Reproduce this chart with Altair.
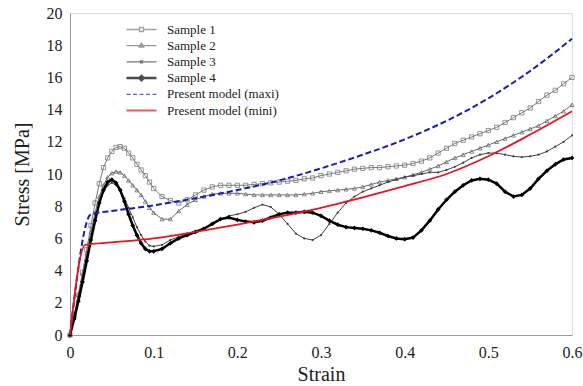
import altair as alt
import pandas as pd

# ---------------- data ----------------
strain = [0, 0.005, 0.01, 0.015, 0.02, 0.025, 0.03, 0.035, 0.04, 0.045, 0.05,
          0.055, 0.06, 0.065, 0.07, 0.075, 0.08, 0.085, 0.09, 0.095, 0.1,
          0.11, 0.12, 0.13, 0.14, 0.15, 0.16, 0.17, 0.18, 0.19, 0.2,
          0.21, 0.22, 0.23, 0.24, 0.25, 0.26, 0.27, 0.28, 0.29, 0.3,
          0.31, 0.32, 0.33, 0.34, 0.35, 0.36, 0.37, 0.38, 0.39, 0.4,
          0.41, 0.42, 0.43, 0.44, 0.45, 0.46, 0.47, 0.48, 0.49, 0.5,
          0.51, 0.52, 0.53, 0.54, 0.55, 0.56, 0.57, 0.58, 0.59, 0.6]

sample1 = [0, 1.2, 2.5, 3.9, 5.3, 6.8, 8.2, 9.4, 10.4, 11.0, 11.4,
           11.65, 11.7, 11.6, 11.3, 11.0, 10.6, 10.25, 9.9, 9.5, 9.1,
           8.6, 8.35, 8.2, 8.4, 8.7, 9.0, 9.2, 9.3, 9.3, 9.3,
           9.3, 9.35, 9.4, 9.45, 9.5, 9.55, 9.6, 9.7, 9.75, 9.9,
           10.0, 10.1, 10.2, 10.3, 10.35, 10.4, 10.4, 10.45, 10.5, 10.55,
           10.65, 10.8, 11.0, 11.3, 11.6, 11.9, 12.1, 12.3, 12.5, 12.7,
           12.9, 13.2, 13.5, 13.8, 14.1, 14.5, 14.9, 15.2, 15.6, 16.0]

sample2 = [0, 1.2, 2.5, 3.8, 5.1, 6.4, 7.6, 8.6, 9.3, 9.8, 10.05,
           10.15, 10.1, 9.9, 9.6, 9.3, 9.0, 8.7, 8.3, 7.9, 7.6,
           7.2, 7.2, 7.7, 8.1, 8.4, 8.6, 8.75, 8.8, 8.8, 8.8,
           8.75, 8.7, 8.7, 8.7, 8.7, 8.7, 8.7, 8.75, 8.8, 8.9,
           8.95, 9.0, 9.05, 9.1, 9.2, 9.35, 9.5, 9.6, 9.7, 9.8,
           9.95, 10.1, 10.3, 10.5, 10.75, 11.0, 11.2, 11.4, 11.6, 11.8,
           12.0, 12.2, 12.4, 12.6, 12.8, 13.0, 13.3, 13.6, 13.9, 14.3]

sample3 = [0, 1.1, 2.3, 3.5, 4.8, 6.0, 7.2, 8.2, 8.9, 9.3, 9.45,
           9.3, 9.0, 8.5, 7.9, 7.3, 6.7, 6.2, 5.8, 5.55, 5.5,
           5.6, 5.9, 6.1, 6.3, 6.45, 6.6, 6.9, 7.2, 7.4, 7.5,
           7.65, 7.9, 8.1, 7.95, 7.5, 6.9, 6.3, 6.0, 5.9, 6.2,
           6.9, 7.6, 8.2, 8.6, 8.9, 9.1, 9.3, 9.5, 9.65, 9.8,
           9.9, 10.0, 10.1, 10.1, 10.25, 10.45, 10.7, 11.0, 11.2, 11.3,
           11.3, 11.2, 11.1, 11.05, 11.1, 11.2, 11.4, 11.7, 12.0, 12.4]

sample4 = [0, 1.0, 2.1, 3.3, 4.6, 5.9, 7.1, 8.2, 9.0, 9.5, 9.65,
           9.45, 9.0, 8.3, 7.5, 6.8, 6.2, 5.7, 5.35, 5.2, 5.2,
           5.35, 5.7, 6.0, 6.2, 6.4, 6.6, 6.9, 7.2, 7.3, 7.15,
           7.05, 7.0, 7.1, 7.3, 7.5, 7.6, 7.6, 7.65, 7.6, 7.4,
           7.1, 6.85, 6.7, 6.65, 6.6, 6.5, 6.35, 6.15, 6.0, 5.95,
           6.05, 6.5, 7.1, 7.8, 8.4, 8.9, 9.3, 9.6, 9.7, 9.65,
           9.4, 8.9, 8.6, 8.7, 9.1, 9.7, 10.2, 10.6, 10.9, 11.0]

maxi_strain = [0, 0.025, 0.05, 0.1, 0.15, 0.2, 0.25, 0.3, 0.35, 0.4, 0.45, 0.5, 0.55, 0.6]
maxi_stress = [0, 7.5, 7.7, 8.05, 8.5, 9.0, 9.6, 10.35, 11.2, 12.15, 13.3, 14.7, 16.4, 18.4]

mini_strain = [0, 0.018, 0.05, 0.1, 0.15, 0.2, 0.25, 0.3, 0.35, 0.4, 0.45, 0.5, 0.55, 0.6]
mini_stress = [0, 5.6, 5.75, 6.0, 6.4, 6.85, 7.35, 7.9, 8.55, 9.25, 10.0, 11.1, 12.45, 13.9]

names = ["Sample 1", "Sample 2", "Sample 3", "Sample 4",
         "Present model (maxi)", "Present model (mini)"]
colors = ["#7a7a7a", "#6a6a6a", "#404040", "#000000", "#1c1cb4", "#e8141e"]

# legend glyphs (line + marker), drawn as custom symbol paths
legend_paths = [
    "M-3,0H-0.45M0.45,0H3M-0.4,-0.4H0.4V0.4H-0.4Z",
    "M-3,0H3M0,-0.5L0.45,0.3H-0.45Z",
    "M-3,0H3M-0.2,-0.2H0.2V0.2H-0.2Z",
    "M-3,-0.12H3M-3,0.12H3M0,-0.6L0.6,0L0,0.6L-0.6,0ZM0,-0.3L0.3,0L0,0.3L-0.3,0Z",
    "M-3,0H-2.2M-1.7,0H-0.9M-0.4,0H0.4M0.9,0H1.7M2.2,0H3",
    "M-3,-0.08H3M-3,0.08H3",
]

rows = []
for nm, ys in zip(names[:4], [sample1, sample2, sample3, sample4]):
    for x, y in zip(strain, ys):
        rows.append({"series": nm, "strain": x, "stress": y})
for x, y in zip(maxi_strain, maxi_stress):
    rows.append({"series": names[4], "strain": x, "stress": y})
for x, y in zip(mini_strain, mini_stress):
    rows.append({"series": names[5], "strain": x, "stress": y})
df = pd.DataFrame(rows)

FONT = "Liberation Serif"

xenc = alt.X("strain:Q", title="Strain",
             scale=alt.Scale(domain=[0, 0.6], nice=False),
             axis=alt.Axis(values=[0, 0.1, 0.2, 0.3, 0.4, 0.5, 0.6],
                           labelExpr="datum.value == 0 ? '0' : format(datum.value, '.1f')",
                           grid=False, ticks=False, labelPadding=9, labelFlush=False,
                           labelFontSize=16, titleFontSize=20, titlePadding=4,
                           titleFontWeight="normal", domainColor="#999999",
                           labelColor="#222222", titleColor="#222222",
                           labelFont=FONT, titleFont=FONT))
yenc = alt.Y("stress:Q", title="Stress [MPa]",
             scale=alt.Scale(domain=[0, 20], nice=False),
             axis=alt.Axis(values=list(range(0, 21, 2)), grid=False, ticks=False,
                           labelPadding=8, labelFontSize=16, titleFontSize=20,
                           labelFlush=False,
                           titlePadding=14, titleFontWeight="normal",
                           domainColor="#999999", labelColor="#222222",
                           titleColor="#222222", labelFont=FONT, titleFont=FONT))

base = alt.Chart(df)
layers = []

line_widths = [1.0, 1.0, 1.0, 2.5]
marker_shapes = ["square", "triangle-up", "circle", "diamond"]
marker_sizes = [18, 16, 5, 22]
marker_filled = [False, False, True, True]
for i in range(4):
    sub = base.transform_filter(alt.datum.series == names[i])
    layers.append(sub.mark_line(color=colors[i], strokeWidth=line_widths[i])
                  .encode(x=xenc, y=yenc))
    if marker_filled[i]:
        pm = sub.mark_point(shape=marker_shapes[i], filled=True, color=colors[i],
                            size=marker_sizes[i], opacity=1)
    else:
        pm = sub.mark_point(shape=marker_shapes[i], filled=False, color=colors[i],
                            size=marker_sizes[i], strokeWidth=0.8, opacity=1)
    layers.append(pm.encode(x=xenc, y=yenc))

layers.append(base.transform_filter(alt.datum.series == names[4])
              .mark_line(color=colors[4], strokeWidth=2, strokeDash=[6, 3],
                         interpolate="monotone")
              .encode(x=xenc, y=yenc))
layers.append(base.transform_filter(alt.datum.series == names[5])
              .mark_line(color=colors[5], strokeWidth=1.8, interpolate="monotone")
              .encode(x=xenc, y=yenc))

# legend-only layer (no marks drawn)
legend_layer = base.transform_filter("false").mark_point(filled=False, size=100).encode(
    x=xenc, y=yenc,
    color=alt.Color("series:N",
                    scale=alt.Scale(domain=names, range=colors),
                    legend=alt.Legend(title=None, orient="none", legendX=50, legendY=10,
                                      symbolSize=100, symbolStrokeWidth=1.3,
                                      symbolOffset=15, labelOffset=19,
                                      labelFont=FONT, labelFontSize=13,
                                      labelColor="#222222", rowPadding=2.2,
                                      padding=0)),
    shape=alt.Shape("series:N", scale=alt.Scale(domain=names, range=legend_paths)),
)
layers.append(legend_layer)

chart = alt.layer(*layers).properties(
    width=502, height=322,
    padding={"left": 70, "top": 13, "right": 11, "bottom": 51},
    autosize=alt.AutoSizeParams(type="none"),
).configure_view(stroke="#999999", strokeWidth=1).configure(background="white")

chart.save("out.html", embed_options={"renderer": "svg", "actions": False})
